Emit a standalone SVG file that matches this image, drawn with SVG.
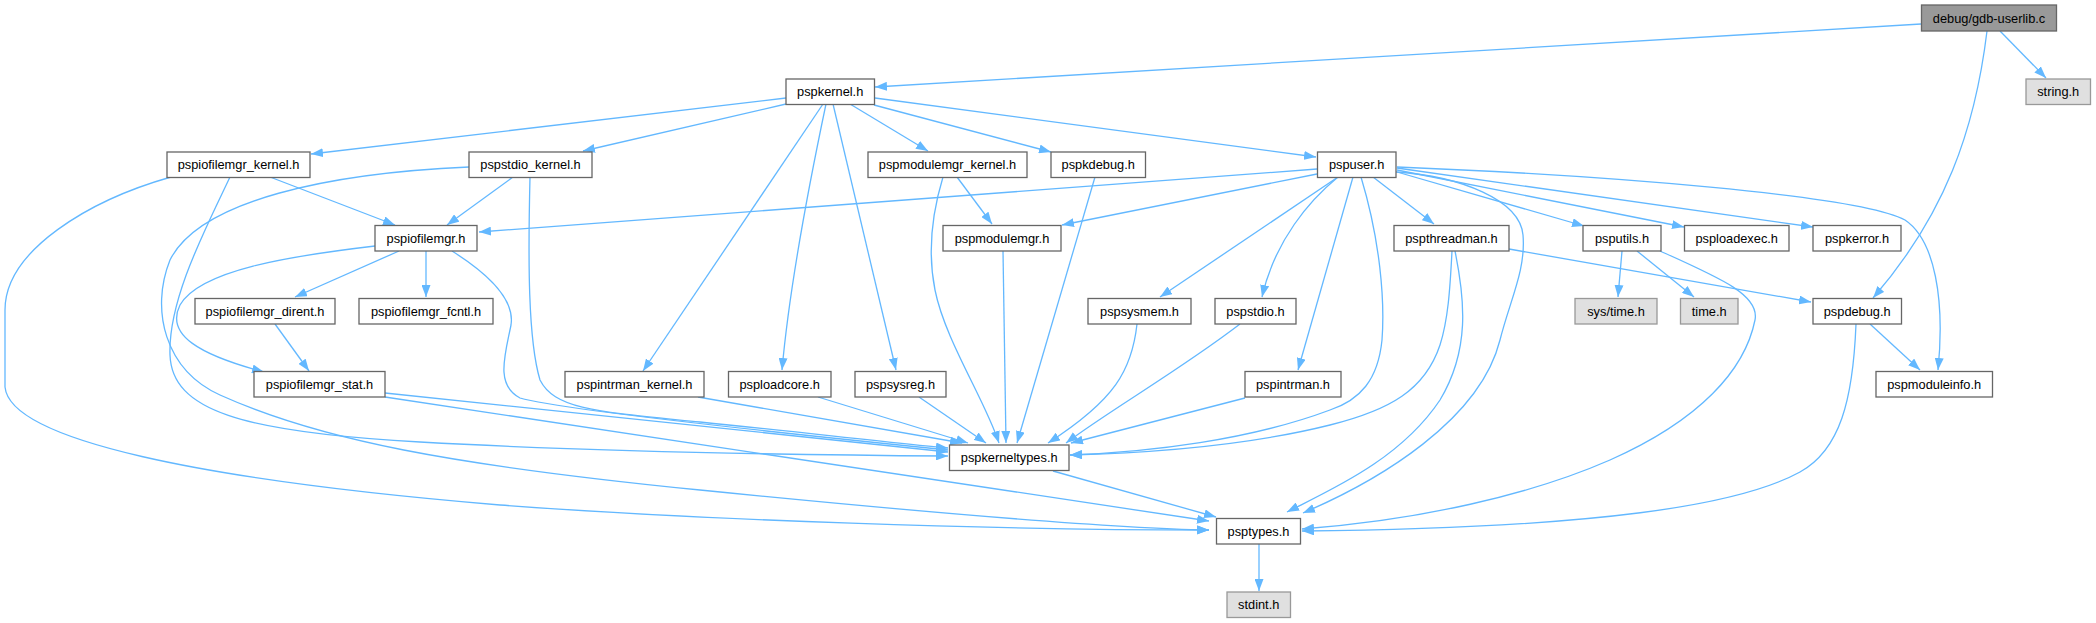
<svg xmlns="http://www.w3.org/2000/svg" width="2096" height="623" viewBox="0 0 2096 623">
<defs>
<marker id="ah" viewBox="0 0 12 9" refX="12" refY="4.5" markerWidth="12" markerHeight="9" markerUnits="userSpaceOnUse" orient="auto">
<path d="M0,0 L12,4.5 L0,9 z" fill="#63b8ff" stroke="none"/>
</marker>
<style>
.n rect{fill:#ffffff;stroke:#666666;stroke-width:1.3}
.x rect{fill:#e0e0e0;stroke:#999999;stroke-width:1.3}
.r rect{fill:#999999;stroke:#666666;stroke-width:1.3}
text{font-family:"Liberation Sans",Arial,sans-serif;font-size:12.8px;fill:#000;text-anchor:middle}
#edges path{fill:none;stroke:#63b8ff;stroke-width:1.3;marker-end:url(#ah)}
</style>
</defs>
<rect width="2096" height="623" fill="#ffffff"/>
<g id="edges">
<path d="M1921,24 L875,87"/>
<path d="M2000,31 L2046,78"/>
<path d="M1987,31 C1975,130 1945,215 1873,298"/>
<path d="M786,98 L311,154"/>
<path d="M786,104 L583,151"/>
<path d="M823,104 L643,371"/>
<path d="M826,104 C810,180 790,280 782,370"/>
<path d="M833,104 L896,370"/>
<path d="M850,104 L928,151"/>
<path d="M874,105 L1051,152"/>
<path d="M875,98 L1316,157"/>
<path d="M270,177 L395,225"/>
<path d="M230,177 C205,230 168,300 170,355 C172,410 240,432 420,442 C600,452 800,455 948,456"/>
<path d="M171,177 C90,200 5,250 5,310 L5,387 C10,440 200,480 500,505 C700,520 1000,530 1209,530"/>
<path d="M513,177 L447,225"/>
<path d="M530,177 C528,260 528,340 540,380 C555,410 600,412 700,422 C800,432 900,444 948,448"/>
<path d="M469,167 C330,173 200,200 170,260 C150,310 165,370 220,395 C320,440 450,465 700,490 C900,510 1100,528 1209,530"/>
<path d="M399,251 L295,297"/>
<path d="M426,251 L426,297"/>
<path d="M375,246 C290,256 200,270 180,305 C165,335 200,355 264,372"/>
<path d="M452,251 C490,275 515,300 511,325 C505,355 495,385 520,398 C560,410 800,435 948,450"/>
<path d="M275,324 L309,371"/>
<path d="M385,393 L948,452"/>
<path d="M385,397 L1209,521"/>
<path d="M698,397 L962,443"/>
<path d="M818,397 L968,443"/>
<path d="M919,397 L986,443"/>
<path d="M957,177 L992,224"/>
<path d="M943,177 C933,210 927,250 935,290 C945,340 985,400 999,443"/>
<path d="M1003,251 L1006,443"/>
<path d="M1095,177 L1017,443"/>
<path d="M1137,324 C1132,370 1115,400 1048,443"/>
<path d="M1240,324 C1180,370 1110,410 1066,443"/>
<path d="M1245,398 L1071,443"/>
<path d="M1317,169 L479,232"/>
<path d="M1317,174 L1062,225"/>
<path d="M1338,177 L1160,297"/>
<path d="M1338,177 C1310,200 1275,240 1262,297"/>
<path d="M1353,177 L1298,370"/>
<path d="M1361,177 C1380,240 1385,300 1382,340 C1378,380 1360,400 1330,410 C1250,440 1150,452 1070,455"/>
<path d="M1452,251 C1450,290 1448,320 1440,345 C1425,390 1390,410 1330,425 C1250,445 1150,453 1070,455"/>
<path d="M1455,251 C1465,300 1470,350 1440,400 C1400,460 1330,490 1287,512"/>
<path d="M1396,172 C1460,176 1520,200 1523,235 C1526,270 1510,300 1500,340 C1480,420 1380,480 1303,513"/>
<path d="M1373,177 L1434,224"/>
<path d="M1397,172 L1584,226"/>
<path d="M1397,170 L1684,227"/>
<path d="M1397,168 L1813,227"/>
<path d="M1397,167 C1600,175 1860,195 1905,220 C1935,240 1945,300 1938,370"/>
<path d="M1509,249 L1811,302"/>
<path d="M1622,251 L1618,297"/>
<path d="M1637,251 L1694,297"/>
<path d="M1660,251 C1720,278 1760,295 1755,320 C1745,370 1700,420 1610,460 C1530,495 1420,520 1302,529"/>
<path d="M1870,324 L1920,370"/>
<path d="M1856,324 C1853,400 1840,450 1800,472 C1740,505 1600,528 1302,531"/>
<path d="M1053,471 L1216,517"/>
<path d="M1259,544 L1259,591"/>
</g>
<g id="gdb-userlib" class="r"><rect x="1921.5" y="5" width="135" height="26"/><text x="1989" y="22.5">debug/gdb-userlib.c</text></g>
<g id="string" class="x"><rect x="2026" y="79" width="64.5" height="25.5"/><text x="2058.2" y="96.3">string.h</text></g>
<g id="pspkernel" class="n"><rect x="786" y="79" width="88.5" height="25.5"/><text x="830.2" y="96.3">pspkernel.h</text></g>
<g id="pspiofilemgr_kernel" class="n"><rect x="167" y="152" width="143" height="25.5"/><text x="238.5" y="169.3">pspiofilemgr_kernel.h</text></g>
<g id="pspstdio_kernel" class="n"><rect x="469" y="152" width="123" height="25.5"/><text x="530.5" y="169.3">pspstdio_kernel.h</text></g>
<g id="pspmodulemgr_kernel" class="n"><rect x="868" y="152" width="159" height="25.5"/><text x="947.5" y="169.3">pspmodulemgr_kernel.h</text></g>
<g id="pspkdebug" class="n"><rect x="1051" y="152" width="94.5" height="25.5"/><text x="1098.2" y="169.3">pspkdebug.h</text></g>
<g id="pspuser" class="n"><rect x="1317.5" y="152" width="78.5" height="25.5"/><text x="1356.7" y="169.3">pspuser.h</text></g>
<g id="pspiofilemgr" class="n"><rect x="375" y="225.5" width="102" height="25.5"/><text x="426" y="242.8">pspiofilemgr.h</text></g>
<g id="pspmodulemgr" class="n"><rect x="943" y="225.5" width="118" height="25.5"/><text x="1002" y="242.8">pspmodulemgr.h</text></g>
<g id="pspthreadman" class="n"><rect x="1394" y="225.5" width="115" height="25.5"/><text x="1451.5" y="242.8">pspthreadman.h</text></g>
<g id="psputils" class="n"><rect x="1583" y="225.5" width="78" height="25.5"/><text x="1622" y="242.8">psputils.h</text></g>
<g id="psploadexec" class="n"><rect x="1684.5" y="225.5" width="104.5" height="25.5"/><text x="1736.7" y="242.8">psploadexec.h</text></g>
<g id="pspkerror" class="n"><rect x="1813" y="225.5" width="88" height="25.5"/><text x="1857" y="242.8">pspkerror.h</text></g>
<g id="pspiofilemgr_dirent" class="n"><rect x="195" y="298.5" width="140" height="25.5"/><text x="265" y="315.8">pspiofilemgr_dirent.h</text></g>
<g id="pspiofilemgr_fcntl" class="n"><rect x="359" y="298.5" width="134" height="25.5"/><text x="426" y="315.8">pspiofilemgr_fcntl.h</text></g>
<g id="pspsysmem" class="n"><rect x="1088" y="298.5" width="103" height="25.5"/><text x="1139.5" y="315.8">pspsysmem.h</text></g>
<g id="pspstdio" class="n"><rect x="1215" y="298.5" width="81" height="25.5"/><text x="1255.5" y="315.8">pspstdio.h</text></g>
<g id="sys-time" class="x"><rect x="1575" y="298.5" width="82" height="25.5"/><text x="1616" y="315.8">sys/time.h</text></g>
<g id="time" class="x"><rect x="1680.5" y="298.5" width="57.5" height="25.5"/><text x="1709.2" y="315.8">time.h</text></g>
<g id="pspdebug" class="n"><rect x="1813" y="298.5" width="88.5" height="25.5"/><text x="1857.2" y="315.8">pspdebug.h</text></g>
<g id="pspiofilemgr_stat" class="n"><rect x="254" y="371.5" width="131" height="25.5"/><text x="319.5" y="388.8">pspiofilemgr_stat.h</text></g>
<g id="pspintrman_kernel" class="n"><rect x="565" y="371.5" width="139" height="25.5"/><text x="634.5" y="388.8">pspintrman_kernel.h</text></g>
<g id="psploadcore" class="n"><rect x="728.5" y="371.5" width="102.5" height="25.5"/><text x="779.7" y="388.8">psploadcore.h</text></g>
<g id="pspsysreg" class="n"><rect x="855" y="371.5" width="91" height="25.5"/><text x="900.5" y="388.8">pspsysreg.h</text></g>
<g id="pspintrman" class="n"><rect x="1245" y="371.5" width="96" height="25.5"/><text x="1293" y="388.8">pspintrman.h</text></g>
<g id="pspmoduleinfo" class="n"><rect x="1876" y="371.5" width="116.5" height="25.5"/><text x="1934.2" y="388.8">pspmoduleinfo.h</text></g>
<g id="pspkerneltypes" class="n"><rect x="949.5" y="445" width="119.5" height="25.5"/><text x="1009.2" y="462.3">pspkerneltypes.h</text></g>
<g id="psptypes" class="n"><rect x="1216.5" y="518.5" width="84" height="25.5"/><text x="1258.5" y="535.8">psptypes.h</text></g>
<g id="stdint" class="x"><rect x="1227" y="592" width="63.5" height="25.5"/><text x="1258.7" y="609.3">stdint.h</text></g>
</svg>
